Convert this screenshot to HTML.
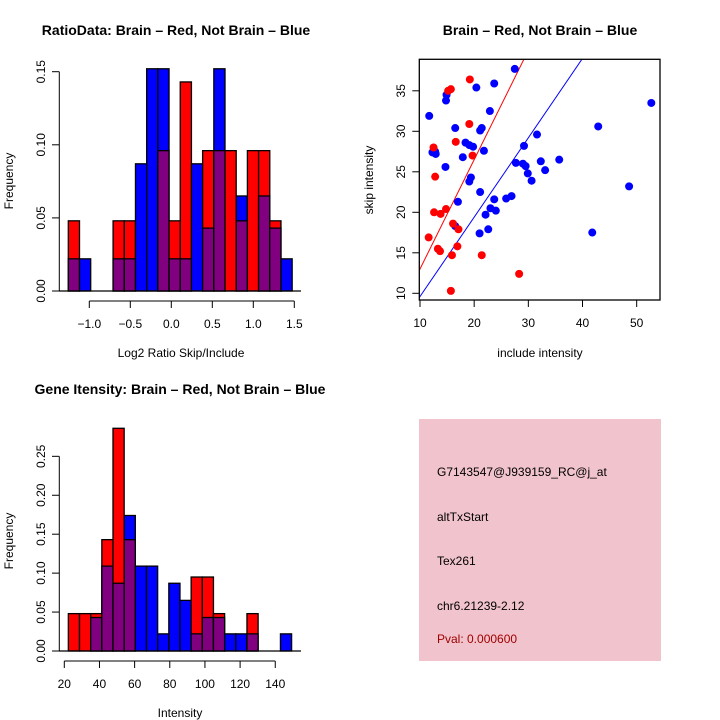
<!DOCTYPE html>
<html><head><meta charset="utf-8"><style>
html,body{margin:0;padding:0;background:#fff;}
svg{display:block;font-family:"Liberation Sans",sans-serif;}
</style></head><body>
<svg id="s" width="720" height="720" viewBox="0 0 720 720">
<rect width="720" height="720" fill="#fff"/>
<g id="p1"></g>
<g id="p2"></g>
<g id="p3"></g>
<g>
<rect x="419" y="419" width="242" height="242" fill="#f1c3cd"/>
<text x="437" y="476" font-size="12">G7143547@J939159_RC@j_at</text>
<text x="437" y="521" font-size="12">altTxStart</text>
<text x="437" y="565" font-size="12">Tex261</text>
<text x="437" y="610" font-size="12">chr6.21239-2.12</text>
<text x="437" y="643" font-size="12" fill="#a00000">Pval: 0.000600</text>
</g>
</svg>
<script>
// ---- data ----
const ratioStart = -1.256, ratioWidth = 0.1365;
const ratioRed  = [0.048,0,0,0,0.048,0.048,0,0,0.096,0.048,0.143,0,0.096,0.096,0.096,0.048,0.096,0.096,0.048,0];
const ratioBlue = [0.022,0.022,0,0,0.022,0.022,0.087,0.152,0.152,0.022,0.022,0.087,0.043,0.152,0,0.065,0,0.065,0.043,0.022];
const ratioXTicks = [-1.0,-0.5,0.0,0.5,1.0,1.5];
const ratioYTicks = [0,0.05,0.10,0.15];

const geneStart = 22.3, geneWidth = 6.35;
const geneRed  = [0.048,0.048,0.048,0.143,0.286,0.143,0,0,0,0,0,0.095,0.095,0.048,0,0,0.048,0,0,0];
const geneBlue = [0,0,0.043,0.109,0.087,0.174,0.109,0.109,0.022,0.087,0.065,0.022,0.043,0.043,0.022,0.022,0.022,0,0,0.022];
const geneXTicks = [20,40,60,80,100,120,140];
const geneYTicks = [0,0.05,0.10,0.15,0.20,0.25];

const blueX = [27.5,23.7,20.4,14.8,14.9,11.7,22.9,16.5,21.1,21.4,12.3,12.8,12.9,18.4,19.1,19.8,21.8,17.9,14.7,19.1,19.4,21.1,17.0,16.5,21.0,22.6,22.1,23.0,24.0,23.7,25.9,26.9,27.7,29.0,29.5,29.9,30.6,29.2,31.6,32.3,33.1,35.7,42.9,48.6,41.8,52.7];
const blueY = [37.7,35.9,35.4,33.8,34.5,31.9,32.5,30.4,30.1,30.4,27.4,27.5,27.2,28.6,28.3,28.1,27.6,26.8,25.6,23.8,24.3,22.5,21.3,18.3,17.4,17.9,19.7,20.5,20.2,21.6,21.7,22.0,26.1,26.0,25.7,24.8,23.9,28.2,29.6,26.3,25.2,26.5,30.6,23.2,17.5,33.5];
const redX = [19.2,15.7,15.2,19.1,16.6,12.5,19.7,12.8,12.6,13.8,14.8,11.6,16.1,17.1,13.3,13.7,16.9,15.9,21.4,28.3,15.7];
const redY = [36.4,35.2,35.0,30.9,28.7,28.0,27.0,24.4,20.0,19.8,20.4,16.9,18.6,17.9,15.5,15.2,15.8,14.7,14.7,12.4,10.3];
const redLine = [13.0,1.35];   // intercept at x=10, slope
const blueLine = [9.6,0.98];
const scatXTicks = [10,20,30,40,50];
const scatYTicks = [10,15,20,25,30,35];

const NS="http://www.w3.org/2000/svg";
function mk(parent,tag,attrs,name,txt){
  const e=document.createElementNS(NS,tag);
  for(const k in attrs) e.setAttribute(k,attrs[k]);
  
  
  if(txt!==undefined) e.textContent=txt;
  parent.appendChild(e); return e;
}
function fmt(v,d){return v.toFixed(d).replace('-','\u2212');}

function hist(g,cfg){
  const sx=v=>cfg.x0px+(v-cfg.x0)*cfg.kx, sy=v=>cfg.y0px-v*cfg.ky;
  for(let i=0;i<cfg.red.length;i++){
    const a=cfg.start+i*cfg.width, b=a+cfg.width;
    const r=cfg.red[i], bl=cfg.blue[i];
    const hi=Math.max(r,bl), lo=Math.min(r,bl);
    if(hi>0) mk(g,'rect',{x:sx(a),y:sy(hi),width:sx(b)-sx(a),height:sy(0)-sy(hi),fill:r>=bl?'#ff0000':'#0000ff',stroke:'#000','stroke-width':1.3},'bar-'+(i+1));
    if(lo>0) mk(g,'rect',{x:sx(a),y:sy(lo),width:sx(b)-sx(a),height:sy(0)-sy(lo),fill:'#800080',stroke:'#000','stroke-width':1.3},'overlap-bar-'+(i+1));
  }
  mk(g,'line',{x1:cfg.barL,y1:sy(0),x2:cfg.barR,y2:sy(0),stroke:'#000','stroke-width':1.3},'baseline');
  const yt=cfg.yticks;
  mk(g,'line',{x1:59.3,y1:sy(yt[0]),x2:59.3,y2:sy(yt[yt.length-1]),stroke:'#000','stroke-width':1},'y-axis');
  yt.forEach(v=>{
    mk(g,'line',{x1:52,y1:sy(v),x2:59.3,y2:sy(v),stroke:'#000'},'y-tick');
    mk(g,'text',{x:0,y:0,transform:`translate(45,${sy(v)}) rotate(-90)`,'text-anchor':'middle','font-size':12},'y-tick-label',v.toFixed(2));
  });
  const xt=cfg.xticks, ay=cfg.xAxisY;
  mk(g,'line',{x1:sx(xt[0]),y1:ay,x2:sx(xt[xt.length-1]),y2:ay,stroke:'#000'},'x-axis');
  xt.forEach(v=>{
    mk(g,'line',{x1:sx(v),y1:ay,x2:sx(v),y2:ay+7,stroke:'#000'},'x-tick');
    mk(g,'text',{x:sx(v),y:ay+27,'text-anchor':'middle','font-size':12},'x-tick-label',fmt(v,cfg.xdec));
  });
  mk(g,'text',{x:0,y:0,transform:`translate(13,${cfg.ymid}) rotate(-90)`,'text-anchor':'middle','font-size':12},'y-axis-title','Frequency');
  mk(g,'text',{x:cfg.xlabX,y:cfg.xlabY,'text-anchor':'middle','font-size':12},'x-axis-title',cfg.xlab);
  mk(g,'text',{x:cfg.titleX,y:cfg.titleY,'text-anchor':'middle','font-size':14,'font-weight':'bold'},'chart-title',cfg.title);
}

hist(document.getElementById('p1'),{start:ratioStart,width:ratioWidth,red:ratioRed,blue:ratioBlue,
  x0:-1.0,x0px:89.3,kx:82,y0px:291,ky:1462,barL:59,barR:301,yticks:ratioYTicks,xticks:ratioXTicks,xdec:1,
  xAxisY:301,ymid:181,xlab:'Log2 Ratio Skip/Include',xlabX:181,xlabY:357,
  title:'RatioData: Brain \u2013 Red, Not Brain \u2013 Blue',titleX:176,titleY:35});
hist(document.getElementById('p3'),{start:geneStart,width:geneWidth,red:geneRed,blue:geneBlue,
  x0:20,x0px:64.3,kx:1.758,y0px:651,ky:778.7,barL:59,barR:301,yticks:geneYTicks,xticks:geneXTicks,xdec:0,
  xAxisY:661,ymid:541,xlab:'Intensity',xlabX:180,xlabY:717,
  title:'Gene Itensity: Brain \u2013 Red, Not Brain \u2013 Blue',titleX:180,titleY:394});

// scatter
(function(){
  const g=document.getElementById('p2');
  const sx=v=>420+(v-10)*5.417, sy=v=>293.3-(v-10)*8.1;
  const L=419.3,R=660,T=59.3,B=300;
  mk(g,'defs',{}, 'clip-defs').innerHTML='<clipPath id="cp"><rect x="'+L+'" y="'+T+'" width="'+(R-L)+'" height="'+(B-T)+'"/></clipPath>';
  const lines=mk(g,'g',{'clip-path':'url(#cp)'},'fit-lines');
  [[redLine,'#ff0000','red-line'],[blueLine,'#0000ff','blue-line']].forEach(([p,c,n])=>{
    mk(lines,'line',{x1:sx(0),y1:sy(p[0]-10*p[1]),x2:sx(60),y2:sy(p[0]+50*p[1]),stroke:c,'stroke-width':1},n);
  });
  blueX.forEach((x,i)=>mk(g,'circle',{cx:sx(x),cy:sy(blueY[i]),r:4,fill:'#0000ff'},'blue-point'));
  redX.forEach((x,i)=>mk(g,'circle',{cx:sx(x),cy:sy(redY[i]),r:4,fill:'#ff0000'},'red-point'));
  mk(g,'rect',{x:L,y:T,width:R-L,height:B-T,fill:'none',stroke:'#000','stroke-width':1.3},'plot-box');
  scatXTicks.forEach(v=>{
    mk(g,'line',{x1:sx(v),y1:B,x2:sx(v),y2:B+7,stroke:'#000'},'x-tick');
    mk(g,'text',{x:sx(v),y:327,'text-anchor':'middle','font-size':12},'x-tick-label',String(v));
  });
  scatYTicks.forEach(v=>{
    mk(g,'line',{x1:L-7,y1:sy(v),x2:L,y2:sy(v),stroke:'#000'},'y-tick');
    mk(g,'text',{x:0,y:0,transform:`translate(405,${sy(v)}) rotate(-90)`,'text-anchor':'middle','font-size':12},'y-tick-label',String(v));
  });
  mk(g,'text',{x:540,y:357,'text-anchor':'middle','font-size':12},'x-axis-title','include intensity');
  mk(g,'text',{x:0,y:0,transform:'translate(373,180) rotate(-90)','text-anchor':'middle','font-size':12},'y-axis-title','skip intensity');
  mk(g,'text',{x:540,y:35,'text-anchor':'middle','font-size':14,'font-weight':'bold'},'chart-title','Brain \u2013 Red, Not Brain \u2013 Blue');
})();
</script>
</body></html>
